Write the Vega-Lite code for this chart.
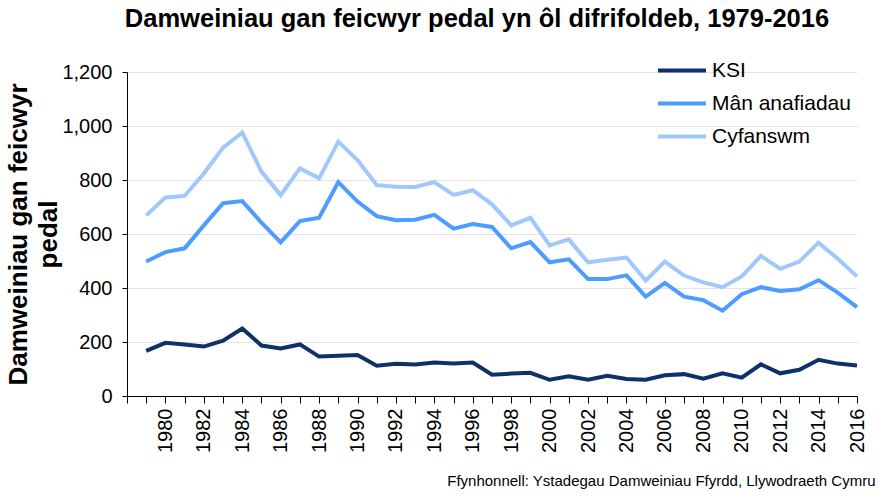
{
  "$schema": "https://vega.github.io/schema/vega-lite/v6.json",
  "width": 730,
  "height": 324,
  "autosize": "none",
  "padding": {"left": 127, "top": 72, "right": 26, "bottom": 108},
  "background": "white",
  "config": {
    "font": "Liberation Sans",
    "view": {"stroke": null}
  },
  "title": {
    "text": "Damweiniau gan feicwyr pedal yn ôl difrifoldeb, 1979-2016",
    "font": "Liberation Sans",
    "fontSize": 25.5,
    "fontWeight": "bold",
    "color": "black",
    "anchor": "middle",
    "frame": "group",
    "baseline": "alphabetic",
    "dx": -15,
    "offset": 2
  },
  "data": {
    "values": [
      {"year": 1979, "series": "KSI", "value": 167},
      {"year": 1980, "series": "KSI", "value": 197},
      {"year": 1981, "series": "KSI", "value": 191},
      {"year": 1982, "series": "KSI", "value": 183},
      {"year": 1983, "series": "KSI", "value": 205},
      {"year": 1984, "series": "KSI", "value": 250},
      {"year": 1985, "series": "KSI", "value": 187},
      {"year": 1986, "series": "KSI", "value": 176},
      {"year": 1987, "series": "KSI", "value": 191},
      {"year": 1988, "series": "KSI", "value": 146},
      {"year": 1989, "series": "KSI", "value": 149},
      {"year": 1990, "series": "KSI", "value": 152},
      {"year": 1991, "series": "KSI", "value": 112},
      {"year": 1992, "series": "KSI", "value": 119},
      {"year": 1993, "series": "KSI", "value": 117},
      {"year": 1994, "series": "KSI", "value": 124},
      {"year": 1995, "series": "KSI", "value": 120},
      {"year": 1996, "series": "KSI", "value": 124},
      {"year": 1997, "series": "KSI", "value": 79},
      {"year": 1998, "series": "KSI", "value": 83},
      {"year": 1999, "series": "KSI", "value": 86},
      {"year": 2000, "series": "KSI", "value": 60},
      {"year": 2001, "series": "KSI", "value": 73},
      {"year": 2002, "series": "KSI", "value": 60},
      {"year": 2003, "series": "KSI", "value": 75},
      {"year": 2004, "series": "KSI", "value": 63},
      {"year": 2005, "series": "KSI", "value": 60},
      {"year": 2006, "series": "KSI", "value": 77},
      {"year": 2007, "series": "KSI", "value": 81},
      {"year": 2008, "series": "KSI", "value": 64},
      {"year": 2009, "series": "KSI", "value": 84},
      {"year": 2010, "series": "KSI", "value": 68},
      {"year": 2011, "series": "KSI", "value": 117},
      {"year": 2012, "series": "KSI", "value": 84},
      {"year": 2013, "series": "KSI", "value": 97},
      {"year": 2014, "series": "KSI", "value": 134},
      {"year": 2015, "series": "KSI", "value": 120},
      {"year": 2016, "series": "KSI", "value": 113},
      {"year": 1979, "series": "Mân anafiadau", "value": 498},
      {"year": 1980, "series": "Mân anafiadau", "value": 533},
      {"year": 1981, "series": "Mân anafiadau", "value": 547},
      {"year": 1982, "series": "Mân anafiadau", "value": 632},
      {"year": 1983, "series": "Mân anafiadau", "value": 714},
      {"year": 1984, "series": "Mân anafiadau", "value": 722},
      {"year": 1985, "series": "Mân anafiadau", "value": 642},
      {"year": 1986, "series": "Mân anafiadau", "value": 569},
      {"year": 1987, "series": "Mân anafiadau", "value": 648},
      {"year": 1988, "series": "Mân anafiadau", "value": 660},
      {"year": 1989, "series": "Mân anafiadau", "value": 792},
      {"year": 1990, "series": "Mân anafiadau", "value": 720},
      {"year": 1991, "series": "Mân anafiadau", "value": 666},
      {"year": 1992, "series": "Mân anafiadau", "value": 651},
      {"year": 1993, "series": "Mân anafiadau", "value": 653},
      {"year": 1994, "series": "Mân anafiadau", "value": 671},
      {"year": 1995, "series": "Mân anafiadau", "value": 620},
      {"year": 1996, "series": "Mân anafiadau", "value": 637},
      {"year": 1997, "series": "Mân anafiadau", "value": 626},
      {"year": 1998, "series": "Mân anafiadau", "value": 547},
      {"year": 1999, "series": "Mân anafiadau", "value": 570},
      {"year": 2000, "series": "Mân anafiadau", "value": 495},
      {"year": 2001, "series": "Mân anafiadau", "value": 506},
      {"year": 2002, "series": "Mân anafiadau", "value": 433},
      {"year": 2003, "series": "Mân anafiadau", "value": 433},
      {"year": 2004, "series": "Mân anafiadau", "value": 447},
      {"year": 2005, "series": "Mân anafiadau", "value": 368},
      {"year": 2006, "series": "Mân anafiadau", "value": 419},
      {"year": 2007, "series": "Mân anafiadau", "value": 368},
      {"year": 2008, "series": "Mân anafiadau", "value": 355},
      {"year": 2009, "series": "Mân anafiadau", "value": 316},
      {"year": 2010, "series": "Mân anafiadau", "value": 377},
      {"year": 2011, "series": "Mân anafiadau", "value": 403},
      {"year": 2012, "series": "Mân anafiadau", "value": 389},
      {"year": 2013, "series": "Mân anafiadau", "value": 395},
      {"year": 2014, "series": "Mân anafiadau", "value": 429},
      {"year": 2015, "series": "Mân anafiadau", "value": 383},
      {"year": 2016, "series": "Mân anafiadau", "value": 329},
      {"year": 1979, "series": "Cyfanswm", "value": 669},
      {"year": 1980, "series": "Cyfanswm", "value": 735},
      {"year": 1981, "series": "Cyfanswm", "value": 741},
      {"year": 1982, "series": "Cyfanswm", "value": 824},
      {"year": 1983, "series": "Cyfanswm", "value": 920},
      {"year": 1984, "series": "Cyfanswm", "value": 976},
      {"year": 1985, "series": "Cyfanswm", "value": 831},
      {"year": 1986, "series": "Cyfanswm", "value": 744},
      {"year": 1987, "series": "Cyfanswm", "value": 843},
      {"year": 1988, "series": "Cyfanswm", "value": 806},
      {"year": 1989, "series": "Cyfanswm", "value": 942},
      {"year": 1990, "series": "Cyfanswm", "value": 874},
      {"year": 1991, "series": "Cyfanswm", "value": 781},
      {"year": 1992, "series": "Cyfanswm", "value": 775},
      {"year": 1993, "series": "Cyfanswm", "value": 774},
      {"year": 1994, "series": "Cyfanswm", "value": 792},
      {"year": 1995, "series": "Cyfanswm", "value": 745},
      {"year": 1996, "series": "Cyfanswm", "value": 762},
      {"year": 1997, "series": "Cyfanswm", "value": 710},
      {"year": 1998, "series": "Cyfanswm", "value": 632},
      {"year": 1999, "series": "Cyfanswm", "value": 660},
      {"year": 2000, "series": "Cyfanswm", "value": 558},
      {"year": 2001, "series": "Cyfanswm", "value": 580},
      {"year": 2002, "series": "Cyfanswm", "value": 495},
      {"year": 2003, "series": "Cyfanswm", "value": 505},
      {"year": 2004, "series": "Cyfanswm", "value": 513},
      {"year": 2005, "series": "Cyfanswm", "value": 428},
      {"year": 2006, "series": "Cyfanswm", "value": 498},
      {"year": 2007, "series": "Cyfanswm", "value": 446},
      {"year": 2008, "series": "Cyfanswm", "value": 421},
      {"year": 2009, "series": "Cyfanswm", "value": 403},
      {"year": 2010, "series": "Cyfanswm", "value": 443},
      {"year": 2011, "series": "Cyfanswm", "value": 519},
      {"year": 2012, "series": "Cyfanswm", "value": 471},
      {"year": 2013, "series": "Cyfanswm", "value": 498},
      {"year": 2014, "series": "Cyfanswm", "value": 568},
      {"year": 2015, "series": "Cyfanswm", "value": 508},
      {"year": 2016, "series": "Cyfanswm", "value": 443}
    ]
  },
  "mark": {"type": "line", "strokeWidth": 4, "strokeJoin": "miter", "strokeCap": "butt"},
  "encoding": {
    "x": {
      "field": "year",
      "type": "quantitative",
      "scale": {"domain": [1978, 2016], "nice": false, "zero": false},
      "axis": {
        "values": [1978, 1979, 1980, 1981, 1982, 1983, 1984, 1985, 1986, 1987, 1988, 1989, 1990, 1991, 1992, 1993, 1994, 1995, 1996, 1997, 1998, 1999, 2000, 2001, 2002, 2003, 2004, 2005, 2006, 2007, 2008, 2009, 2010, 2011, 2012, 2013, 2014, 2015, 2016],
        "labelExpr": "datum.value % 2 == 0 && datum.value > 1978 ? format(datum.value, 'd') : ''",
        "labelAngle": -90,
        "labelFontSize": 20,
        "labelColor": "black",
        "labelPadding": 5,
        "labelOverlap": false,
        "labelFlush": false,
        "grid": false,
        "domainColor": "black",
        "domainWidth": 1,
        "tickColor": "black",
        "tickSize": 7,
        "tickWidth": 1,
        "title": "Ffynhonnell: Ystadegau Damweiniau Ffyrdd, Llywodraeth Cymru",
        "titleFont": "Liberation Sans",
        "titleFontSize": 15,
        "titleFontWeight": "normal",
        "titleColor": "black",
        "titleAnchor": "end",
        "titleAlign": "right",
        "titleBaseline": "alphabetic",
        "titleX": 748,
        "titleY": 89
      }
    },
    "y": {
      "field": "value",
      "type": "quantitative",
      "scale": {"domain": [0, 1200], "nice": false},
      "axis": {
        "values": [0, 200, 400, 600, 800, 1000, 1200],
        "format": ",d",
        "labelFontSize": 20,
        "labelColor": "black",
        "labelPadding": 10,
        "tickColor": "black",
        "tickSize": 5,
        "domainColor": "black",
        "gridColor": "#e4e4e4",
        "gridWidth": 1,
        "title": ["Damweiniau gan feicwyr", "pedal"],
        "titleFontSize": 26,
        "titleFontWeight": "bold",
        "titleColor": "black",
        "titleLineHeight": 30,
        "titlePadding": 0
      }
    },
    "color": {
      "field": "series",
      "type": "nominal",
      "scale": {"domain": ["KSI", "Mân anafiadau", "Cyfanswm"], "range": ["#0c316b", "#4c9dff", "#a0c8fc"]},
      "legend": {
        "title": null,
        "orient": "none",
        "legendX": 529,
        "legendY": -18,
        "symbolType": "stroke",
        "symbolStrokeWidth": 4,
        "symbolSize": 2304,
        "clipHeight": 33,
        "labelFontSize": 21,
        "labelColor": "black",
        "labelOffset": 4,
        "rowPadding": 0
      }
    }
  }
}
